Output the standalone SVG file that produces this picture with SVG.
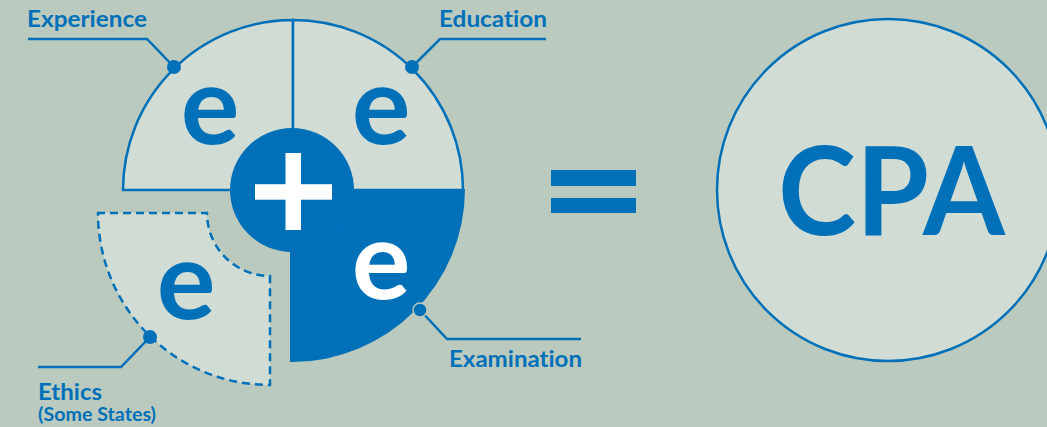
<svg xmlns="http://www.w3.org/2000/svg" width="1047" height="427" viewBox="0 0 1047 427">
<style>
text{font-variant-ligatures:none;font-feature-settings:"liga" 0,"clig" 0}
.bg{fill:#BACABE}
.sec{fill:#D1DDD4;stroke:#0070B9;stroke-width:2.5;stroke-linejoin:miter}
.dash{fill:#D1DDD4;stroke:#0070B9;stroke-width:2.5;stroke-dasharray:8 5}
.blue{fill:#0070B9}
.white{fill:#FFFFFF}
.big{font-family:Lato,"Liberation Sans",sans-serif;font-weight:700;font-size:110px;text-anchor:middle}
.lbl{font-family:Lato,"Liberation Sans",sans-serif;font-weight:700;font-size:23.5px;fill:#0070B9}
.sm{font-family:Lato,"Liberation Sans",sans-serif;font-weight:700;font-size:18.5px;fill:#0070B9}
.lead{fill:none;stroke:#0070B9;stroke-width:2.5}
.dot{fill:#0070B9}
</style>
<rect class="bg" x="0" y="0" width="1047" height="427"/>
<g id="ethics">
<path class="dash" d="M 97 213 H 207 A 63 63 0 0 0 270 276 V 385 A 172 172 0 0 1 98 213 Z"/>
<text class="big" x="186" y="319" fill="#0070B9">e</text>
<text class="lbl" x="38" y="400" textLength="64" lengthAdjust="spacingAndGlyphs">Ethics</text>
<text class="sm" x="38" y="421" textLength="118" lengthAdjust="spacingAndGlyphs">(Some States)</text>
</g>
<g id="experience">
<path class="sec" d="M 293 190 L 123 190 A 170 170 0 0 1 293 20 Z"/>
<text class="big" x="210" y="144" fill="#0070B9">e</text>
<text class="lbl" x="27" y="27" textLength="120" lengthAdjust="spacingAndGlyphs">Experience</text>
</g>
<g id="education">
<path class="sec" d="M 293 190 L 293 20 A 170 170 0 0 1 463 190 Z"/>
<text class="big" x="381" y="144" fill="#0070B9">e</text>
<text class="lbl" x="439" y="27" textLength="108" lengthAdjust="spacingAndGlyphs">Education</text>
</g>
<g id="examination">
<path class="blue" d="M 290 189 L 465 189 A 173 173 0 0 1 292 362 L 290 362 Z"/>
<text class="big" x="381" y="299" fill="#FFFFFF">e</text>
<text class="lbl" x="449" y="367" textLength="133" lengthAdjust="spacingAndGlyphs">Examination</text>
</g>
<g id="plus">
<circle class="blue" cx="292" cy="190" r="62"/>
<rect class="white" x="285.5" y="153" width="15.5" height="77"/>
<rect class="white" x="255" y="184.2" width="77" height="15.5"/>
</g>
<g id="equals">
<rect class="blue" x="551" y="170" width="85" height="16"/>
<rect class="blue" x="551" y="198" width="85" height="15"/>
</g>
<g id="cpa">
<circle cx="888" cy="190" r="171" fill="#D1DDD4" stroke="#0070B9" stroke-width="2.5"/>
<text x="891.5" y="235" font-family="Lato,'Liberation Sans',sans-serif" font-weight="700" font-size="123" fill="#0070B9" text-anchor="middle" textLength="227" lengthAdjust="spacingAndGlyphs">CPA</text>
</g>
<g id="connectors">
<polyline class="lead" points="28,39 147,39 174,67"/>
<polyline class="lead" points="546,39 440,39 412,67"/>
<polyline class="lead" points="420,310 447,339 581,339"/>
<polyline class="lead" points="150,337 121,367 38,367"/>
<circle class="dot" cx="174" cy="67" r="7"/>
<circle class="dot" cx="412" cy="67" r="7"/>
<circle class="dot" cx="420" cy="310" r="7" stroke="#BACABE" stroke-width="1.5"/>
<circle class="dot" cx="150" cy="337" r="7"/>
</g>
</svg>
